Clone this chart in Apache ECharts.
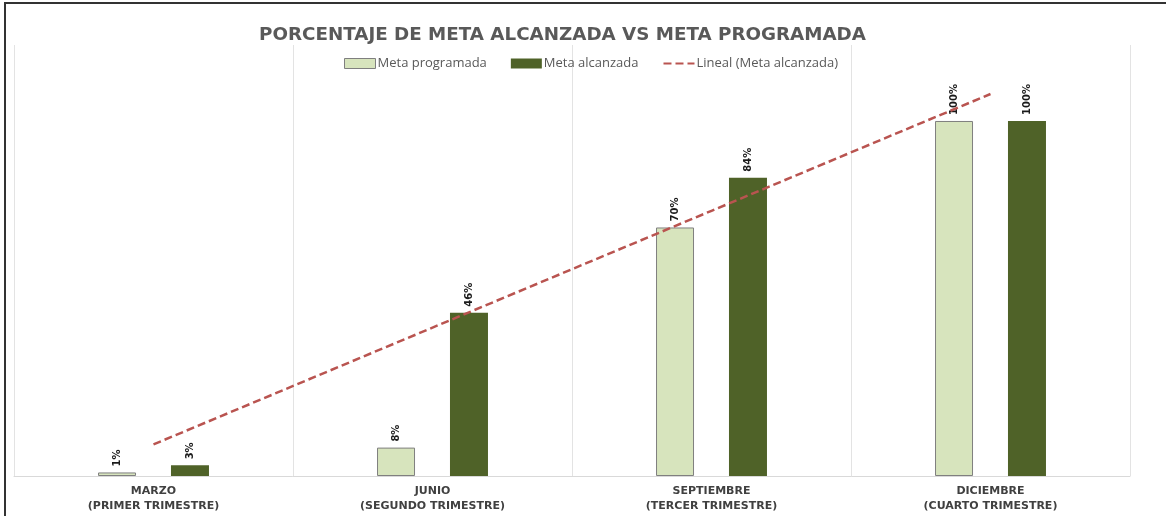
<!DOCTYPE html>
<html>
<head>
<meta charset="utf-8">
<script src="https://cdn.jsdelivr.net/npm/echarts@6/dist/echarts.min.js"></script>
<style>
  html, body { margin: 0; padding: 0; background: #fff; }
  #chart { width: 1166px; height: 516px; }
  #frame { position: absolute; left: 4px; top: 2px; width: 1170px; height: 520px;
    border-top: 2px solid #333; border-left: 2px solid #333; pointer-events: none; }
</style>
</head>
<body>
<div id="chart"></div>
<div id="frame"></div>
<script>
const meses = ['MARZO', 'JUNIO', 'SEPTIEMBRE', 'DICIEMBRE'];
const trimestres = ['(PRIMER TRIMESTRE)', '(SEGUNDO TRIMESTRE)', '(TERCER TRIMESTRE)', '(CUARTO TRIMESTRE)'];
const metaProgramada = [1, 8, 70, 100];
const metaAlcanzada = [3, 46, 84, 100];
// linea de tendencia
const lineal = [8.9, 41.8, 74.7, 107.6];

const categorias = meses.map((m, i) => m + '\n' + trimestres[i]);

const chart = echarts.init(document.getElementById('chart'));

const barLabel = {
  show: true,
  position: 'top',
  rotate: 90,
  align: 'left',
  verticalAlign: 'middle',
  distance: 6,
  fontFamily: 'DejaVu Sans',
  fontWeight: 'bold',
  fontSize: 10,
  color: '#1a1a1a',
  formatter: p => p.value + '%'
};

chart.setOption({
  animation: false,
  title: {
    text: 'PORCENTAJE DE META ALCANZADA VS META PROGRAMADA',
    left: 254,
    top: 21,
    textStyle: {
      fontFamily: 'DejaVu Sans',
      fontWeight: 'bold',
      fontSize: 18.3,
      color: '#595959'
    }
  },
  legend: {
    left: 339,
    top: 52,
    itemWidth: 31,
    itemHeight: 10,
    itemGap: 24,
    textStyle: { fontFamily: 'Open Sans', fontSize: 13, color: '#595959', padding: [0, 0, 0, -3] },
    data: [
      { name: 'Meta programada', icon: 'rect', itemStyle: { borderWidth: 1 } },
      { name: 'Meta alcanzada', icon: 'rect' },
      {
        name: 'Lineal (Meta alcanzada)',
        itemStyle: { color: 'rgba(0,0,0,0)', borderColor: 'rgba(0,0,0,0)', borderWidth: 0 }
      }
    ]
  },
  grid: { left: 14, right: 36, top: 45, bottom: 40 },
  xAxis: {
    type: 'category',
    data: categorias,
    axisTick: { show: false },
    axisLine: { lineStyle: { color: '#d9d9d9', width: 1 } },
    splitLine: { show: true, lineStyle: { color: '#e3e3e3', width: 1 } },
    axisLabel: {
      interval: 0,
      margin: 8,
      fontFamily: 'DejaVu Sans',
      fontWeight: 'bold',
      fontSize: 11,
      lineHeight: 15,
      color: '#404040'
    }
  },
  yAxis: {
    type: 'value',
    min: 0,
    max: 121.4,
    show: false,
    splitLine: { show: false }
  },
  series: [
    {
      name: 'Meta programada',
      type: 'bar',
      data: metaProgramada,
      barWidth: 38,
      barGap: '92%',
      itemStyle: { color: '#d7e4bd', borderColor: '#7f7f7f', borderWidth: 1 },
      label: barLabel
    },
    {
      name: 'Meta alcanzada',
      type: 'bar',
      data: metaAlcanzada,
      barWidth: 38,
      itemStyle: { color: '#4f6228' },
      label: barLabel
    },
    {
      name: 'Lineal (Meta alcanzada)',
      type: 'line',
      data: lineal,
      symbol: 'none',
      z: 5,
      lineStyle: { color: '#b95450', width: 2.5, type: [8, 4] },
      itemStyle: { color: '#b95450' }
    }
  ]
});
</script>
</body>
</html>
